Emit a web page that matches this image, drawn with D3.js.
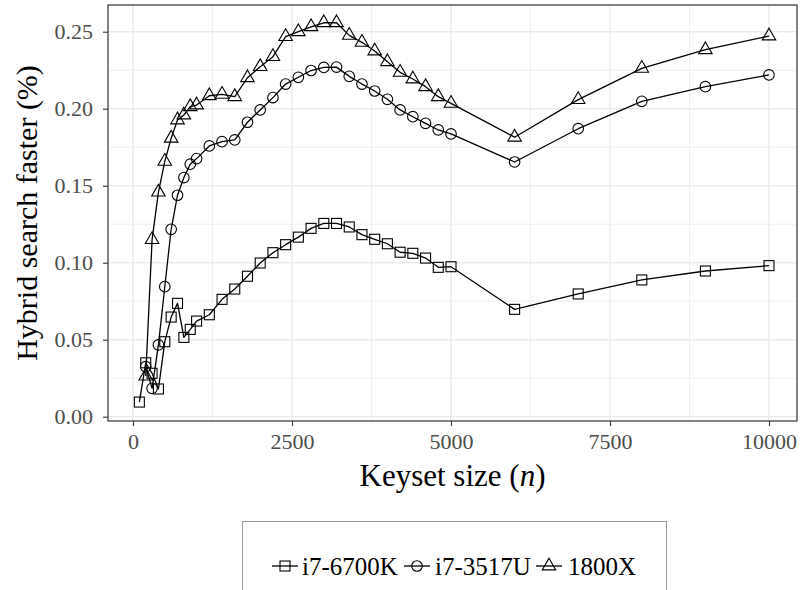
<!DOCTYPE html>
<html>
<head>
<meta charset="utf-8">
<script src="https://cdn.jsdelivr.net/npm/d3@7"></script>
<style>
  html, body { margin: 0; padding: 0; background: #fff; }
  svg { display: block; }
</style>
</head>
<body>
<svg id="chart" width="801" height="590"></svg>
<script>
// ---- data ----
const keysetSize = [100, 200, 300, 400, 500, 600, 700, 800, 900, 1000,
  1200, 1400, 1600, 1800, 2000, 2200, 2400, 2600, 2800, 3000,
  3200, 3400, 3600, 3800, 4000, 4200, 4400, 4600, 4800, 5000,
  6000, 7000, 8000, 9000, 10000];

const seriesNames = ["i7-6700K", "i7-3517U", "1800X"];
const seriesShapes = ["square", "circle", "triangle"];

const valuesI7_6700K = [0.0095, 0.0350, 0.0282, 0.0180, 0.0487, 0.0647, 0.0736, 0.0515, 0.0567, 0.0621,
  0.0662, 0.0762, 0.0829, 0.0912, 0.0998, 0.1065, 0.1117, 0.1166, 0.1223, 0.1255,
  0.1255, 0.1232, 0.1182, 0.1152, 0.1123, 0.1068, 0.1061, 0.1030, 0.0970, 0.0974,
  0.0697, 0.0797, 0.0888, 0.0946, 0.0981];

const valuesI7_3517U = [null, 0.0325, 0.0184, 0.0466, 0.0844, 0.1217, 0.1438, 0.1553, 0.1640, 0.1676,
  0.1758, 0.1786, 0.1797, 0.1912, 0.1992, 0.2072, 0.2160, 0.2204, 0.2248, 0.2268,
  0.2270, 0.2210, 0.2160, 0.2115, 0.2061, 0.1992, 0.1948, 0.1905, 0.1862, 0.1836,
  0.1654, 0.1870, 0.2048, 0.2143, 0.2219];

const values1800X = [null, 0.0264, 0.1150, 0.1458, 0.1658, 0.1808, 0.1927, 0.1959, 0.2013, 0.2024,
  0.2084, 0.2093, 0.2078, 0.2201, 0.2273, 0.2338, 0.2468, 0.2500, 0.2532, 0.2558,
  0.2558, 0.2476, 0.2431, 0.2375, 0.2305, 0.2236, 0.2193, 0.2143, 0.2078, 0.2035,
  0.1815, 0.2059, 0.2262, 0.2383, 0.2472];

const xTicks = [0, 2500, 5000, 7500, 10000];
const xMinorTicks = [1250, 3750, 6250, 8750];
const yTicks = [0.00, 0.05, 0.10, 0.15, 0.20, 0.25];
const yMinorTicks = [0.025, 0.075, 0.125, 0.175, 0.225];

const xTitle = "Keyset size (";
const xTitleVar = "n";
const yTitle = "Hybrid search faster (%)";

// ---- layout ----
const panel = { left: 108, right: 797, top: 5, bottom: 421 };
const svg = d3.select("#chart");
const serif = "'Liberation Serif', 'DejaVu Serif', serif";

const x = d3.scaleLinear().domain([0, 10000]).range([133, 769]);
const y = d3.scaleLinear().domain([0, 0.25]).range([416.7, 31.7]);

// panel background
svg.append("rect").attr("x", panel.left).attr("y", panel.top)
  .attr("width", panel.right - panel.left).attr("height", panel.bottom - panel.top)
  .attr("fill", "#fff");

const grid = svg.append("g");
// minor grid
grid.selectAll(".xminor").data(xMinorTicks).enter().append("line")
  .attr("x1", d => x(d)).attr("x2", d => x(d))
  .attr("y1", panel.top).attr("y2", panel.bottom)
  .attr("stroke", "#ebebeb").attr("stroke-width", 0.8);
grid.selectAll(".yminor").data(yMinorTicks).enter().append("line")
  .attr("y1", d => y(d)).attr("y2", d => y(d))
  .attr("x1", panel.left).attr("x2", panel.right)
  .attr("stroke", "#ebebeb").attr("stroke-width", 0.8);
// major grid
grid.selectAll(".xmajor").data(xTicks).enter().append("line")
  .attr("x1", d => x(d)).attr("x2", d => x(d))
  .attr("y1", panel.top).attr("y2", panel.bottom)
  .attr("stroke", "#ebebeb").attr("stroke-width", 1.5);
grid.selectAll(".ymajor").data(yTicks).enter().append("line")
  .attr("y1", d => y(d)).attr("y2", d => y(d))
  .attr("x1", panel.left).attr("x2", panel.right)
  .attr("stroke", "#ebebeb").attr("stroke-width", 1.5);

// ---- series ----
const allValues = [valuesI7_6700K, valuesI7_3517U, values1800X];
const series = seriesNames.map((name, i) => ({
  name, shape: seriesShapes[i],
  points: keysetSize.map((n, j) => ({ n, v: allValues[i][j] })).filter(p => p.v !== null)
}));

const lineGen = d3.line().x(p => x(p.n)).y(p => y(p.v));

function drawMarker(g, shape, cx, cy) {
  if (shape === "square") {
    const s = 10;
    g.append("rect").attr("x", cx - s / 2).attr("y", cy - s / 2)
      .attr("width", s).attr("height", s)
      .attr("fill", "none").attr("stroke", "#000").attr("stroke-width", 1.1);
  } else if (shape === "circle") {
    g.append("circle").attr("cx", cx).attr("cy", cy).attr("r", 5.3)
      .attr("fill", "none").attr("stroke", "#000").attr("stroke-width", 1.1);
  } else {
    const r = 7.8;
    const pts = [[cx, cy - r], [cx + r * Math.sqrt(3) / 2, cy + r / 2], [cx - r * Math.sqrt(3) / 2, cy + r / 2]];
    g.append("path").attr("d", "M" + pts.map(p => p.join(",")).join("L") + "Z")
      .attr("fill", "none").attr("stroke", "#000").attr("stroke-width", 1.1);
  }
}

const plotG = svg.append("g");
series.forEach(s => {
  plotG.append("path").datum(s.points).attr("d", lineGen)
    .attr("fill", "none").attr("stroke", "#000").attr("stroke-width", 1.3)
    .attr("stroke-linejoin", "round");
});
series.forEach(s => {
  const g = plotG.append("g");
  s.points.forEach(p => drawMarker(g, s.shape, x(p.n), y(p.v)));
});

// panel border
svg.append("rect").attr("x", panel.left).attr("y", panel.top)
  .attr("width", panel.right - panel.left).attr("height", panel.bottom - panel.top)
  .attr("fill", "none").attr("stroke", "#333").attr("stroke-width", 1.2);

// ---- axes ----
const xAxis = svg.append("g").attr("transform", `translate(0,${panel.bottom})`)
  .call(d3.axisBottom(x).tickValues(xTicks).tickFormat(d3.format("d")).tickSize(5).tickPadding(7));
xAxis.select(".domain").remove();
xAxis.selectAll(".tick line").attr("stroke", "#333").attr("stroke-width", 1.1);
xAxis.selectAll(".tick text").attr("fill", "#4d4d4d").style("font-family", serif).style("font-size", "22px");

const yAxis = svg.append("g").attr("transform", `translate(${panel.left},0)`)
  .call(d3.axisLeft(y).tickValues(yTicks).tickFormat(d3.format(".2f")).tickSize(5).tickPadding(10));
yAxis.select(".domain").remove();
yAxis.selectAll(".tick line").attr("stroke", "#333").attr("stroke-width", 1.1);
yAxis.selectAll(".tick text").attr("fill", "#4d4d4d").style("font-family", serif).style("font-size", "22px");

// titles
const xt = svg.append("text").attr("x", (panel.left + panel.right) / 2).attr("y", 486)
  .attr("text-anchor", "middle").style("font-family", serif).style("font-size", "31px").attr("fill", "#000");
xt.append("tspan").text(xTitle);
xt.append("tspan").attr("font-style", "italic").text(xTitleVar);
xt.append("tspan").text(")");

svg.append("text").attr("transform", `translate(37,${(panel.top + panel.bottom) / 2}) rotate(-90)`)
  .attr("text-anchor", "middle").style("font-family", serif).style("font-size", "30px").attr("fill", "#000")
  .text(yTitle);

// ---- legend ----
const legend = svg.append("g");
legend.append("rect").attr("x", 242.5).attr("y", 521.5).attr("width", 424).attr("height", 100)
  .attr("fill", "#fff").attr("stroke", "#999").attr("stroke-width", 1);
const keyX = [272, 404, 536];
const textX = [302, 435, 568];
const keyY = 566;
series.forEach((s, i) => {
  const g = legend.append("g");
  g.append("line").attr("x1", keyX[i]).attr("x2", keyX[i] + 26).attr("y1", keyY).attr("y2", keyY)
    .attr("stroke", "#000").attr("stroke-width", 1.3);
  drawMarker(g, s.shape, keyX[i] + 13, keyY);
  g.append("text").attr("x", textX[i]).attr("y", keyY + 9)
    .style("font-family", serif).style("font-size", "25px").attr("fill", "#000").text(s.name);
});
</script>
</body>
</html>
